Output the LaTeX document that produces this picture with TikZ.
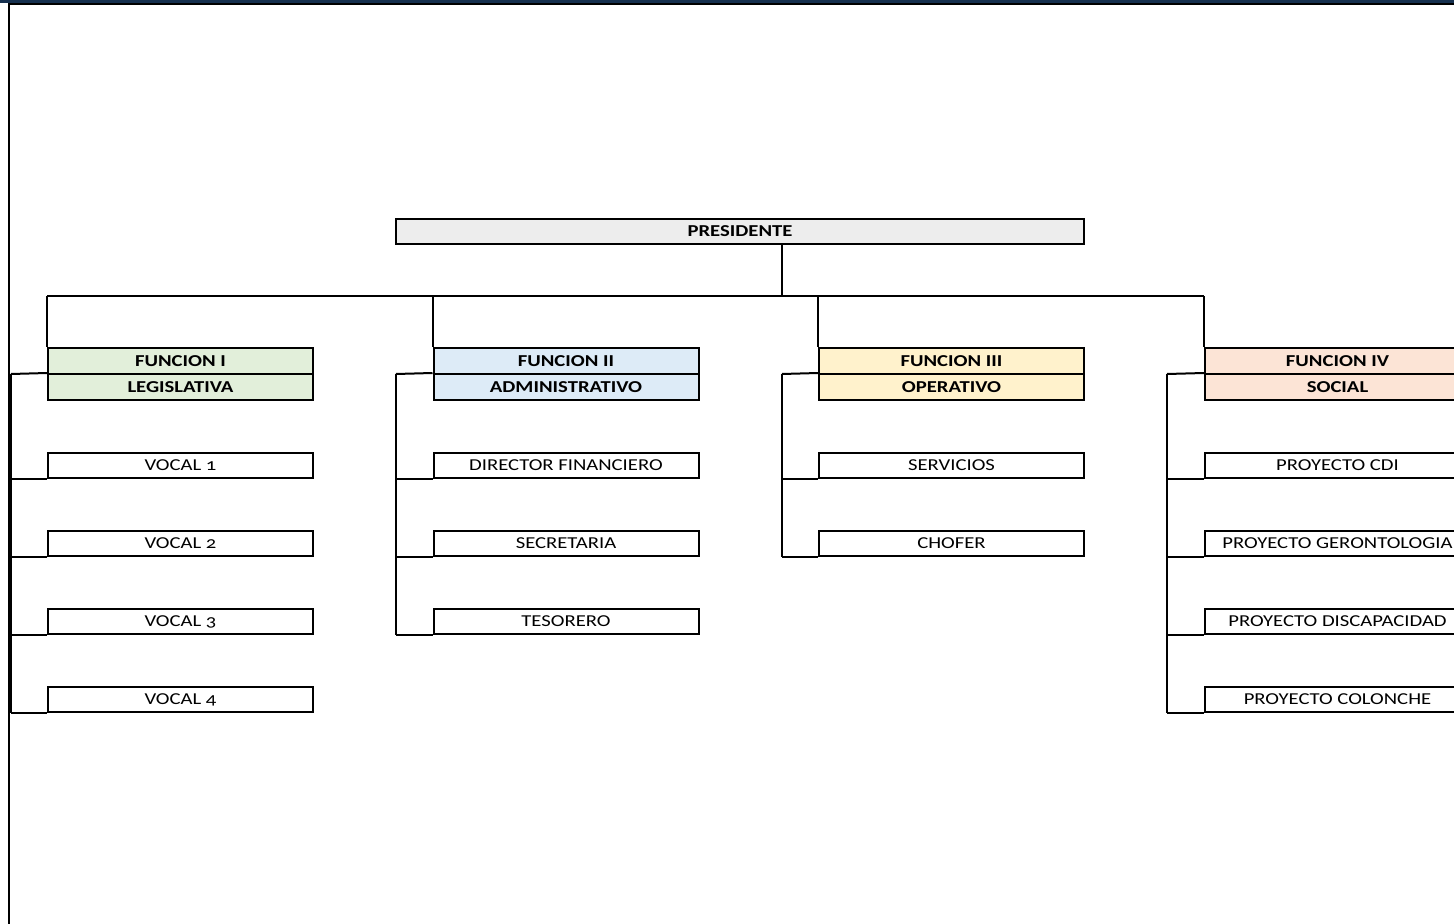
\documentclass[tikz,border=0pt]{standalone}
\usepackage{fontspec}
\setmainfont{Carlito}[FakeStretch=1.24,Numbers=OldStyle]
\usepackage{xcolor}
\usetikzlibrary{positioning,calc}

\definecolor{navybar}{HTML}{16304F}
\definecolor{grayfill}{HTML}{EDEDED}
\definecolor{greenfill}{HTML}{E2EFDA}
\definecolor{bluefill}{HTML}{DDEBF7}
\definecolor{yellowfill}{HTML}{FFF2CC}
\definecolor{peachfill}{HTML}{FCE4D6}

\tikzset{
  box/.style={draw,line width=1.5pt,minimum width=198.75pt,minimum height=18.75pt,inner sep=0pt,font=\fontsize{12.5}{14}\selectfont},
  funcbox/.style={box,minimum height=19.5pt,font=\fontsize{12.5}{14}\selectfont\bfseries},
}

\begin{document}
\begin{tikzpicture}[x=0.75pt,y=-0.75pt,line width=1.5pt]
    \useasboundingbox (0,0) rectangle (1454,924);
    % frame of the sheet
    \fill[navybar] (0,0) rectangle (1454,3);
    \draw (9,924) -- (9,4) -- (1454,4);

    \node[box,fill=grayfill,minimum width=516pt,font=\fontsize{12.5}{14}\selectfont\bfseries] (pres) at (740,231.5) {PRESIDENTE};
    \coordinate (hub) at (782,296);

    \foreach \k/\cx/\rx/\tint/\head/\name in {1/180.5/11/greenfill/FUNCION I/LEGISLATIVA,
        2/566/396/bluefill/FUNCION II/ADMINISTRATIVO,
        3/951.5/782/yellowfill/FUNCION III/OPERATIVO,
        4/1337.5/1167/peachfill/FUNCION IV/SOCIAL} {
      \node[funcbox,fill=\tint] (f\k a) at (\cx,361) {\head};
      \node[funcbox,fill=\tint] (f\k b) at (\cx,387) {\name};
      \coordinate (rail\k) at (\rx,374);
      \draw (f\k a.north west |- hub) -- (f\k a.north west);
      \draw (f\k b.north west) -- (rail\k);
    }
    \draw (pres.south -| hub) -- (hub);
    \draw (f1a.north west |- hub) -- (f4a.north west |- hub);

    % dependencies of each function
    \foreach \c [count=\j] in {VOCAL 1,VOCAL 2,VOCAL 3,VOCAL 4} {
      \node[box] (c1\j) at (180.5,{387.5+78*\j}) {\c};
      \draw (c1\j.south west) -- (rail1 |- c1\j.south west);
    }
    \foreach \c [count=\j] in {DIRECTOR FINANCIERO,SECRETARIA,TESORERO} {
      \node[box] (c2\j) at (566,{387.5+78*\j}) {\c};
      \draw (c2\j.south west) -- (rail2 |- c2\j.south west);
    }
    \foreach \c [count=\j] in {SERVICIOS,CHOFER} {
      \node[box] (c3\j) at (951.5,{387.5+78*\j}) {\c};
      \draw (c3\j.south west) -- (rail3 |- c3\j.south west);
    }
    \foreach \c [count=\j] in {PROYECTO CDI,PROYECTO GERONTOLOGIA,PROYECTO DISCAPACIDAD,PROYECTO COLONCHE} {
      \node[box] (c4\j) at (1337.5,{387.5+78*\j}) {\c};
      \draw (c4\j.south west) -- (rail4 |- c4\j.south west);
    }
    \draw (rail1) -- (rail1 |- c14.south west);
    \draw (rail2) -- (rail2 |- c23.south west);
    \draw (rail3) -- (rail3 |- c32.south west);
    \draw (rail4) -- (rail4 |- c44.south west);
\end{tikzpicture}
\end{document}
